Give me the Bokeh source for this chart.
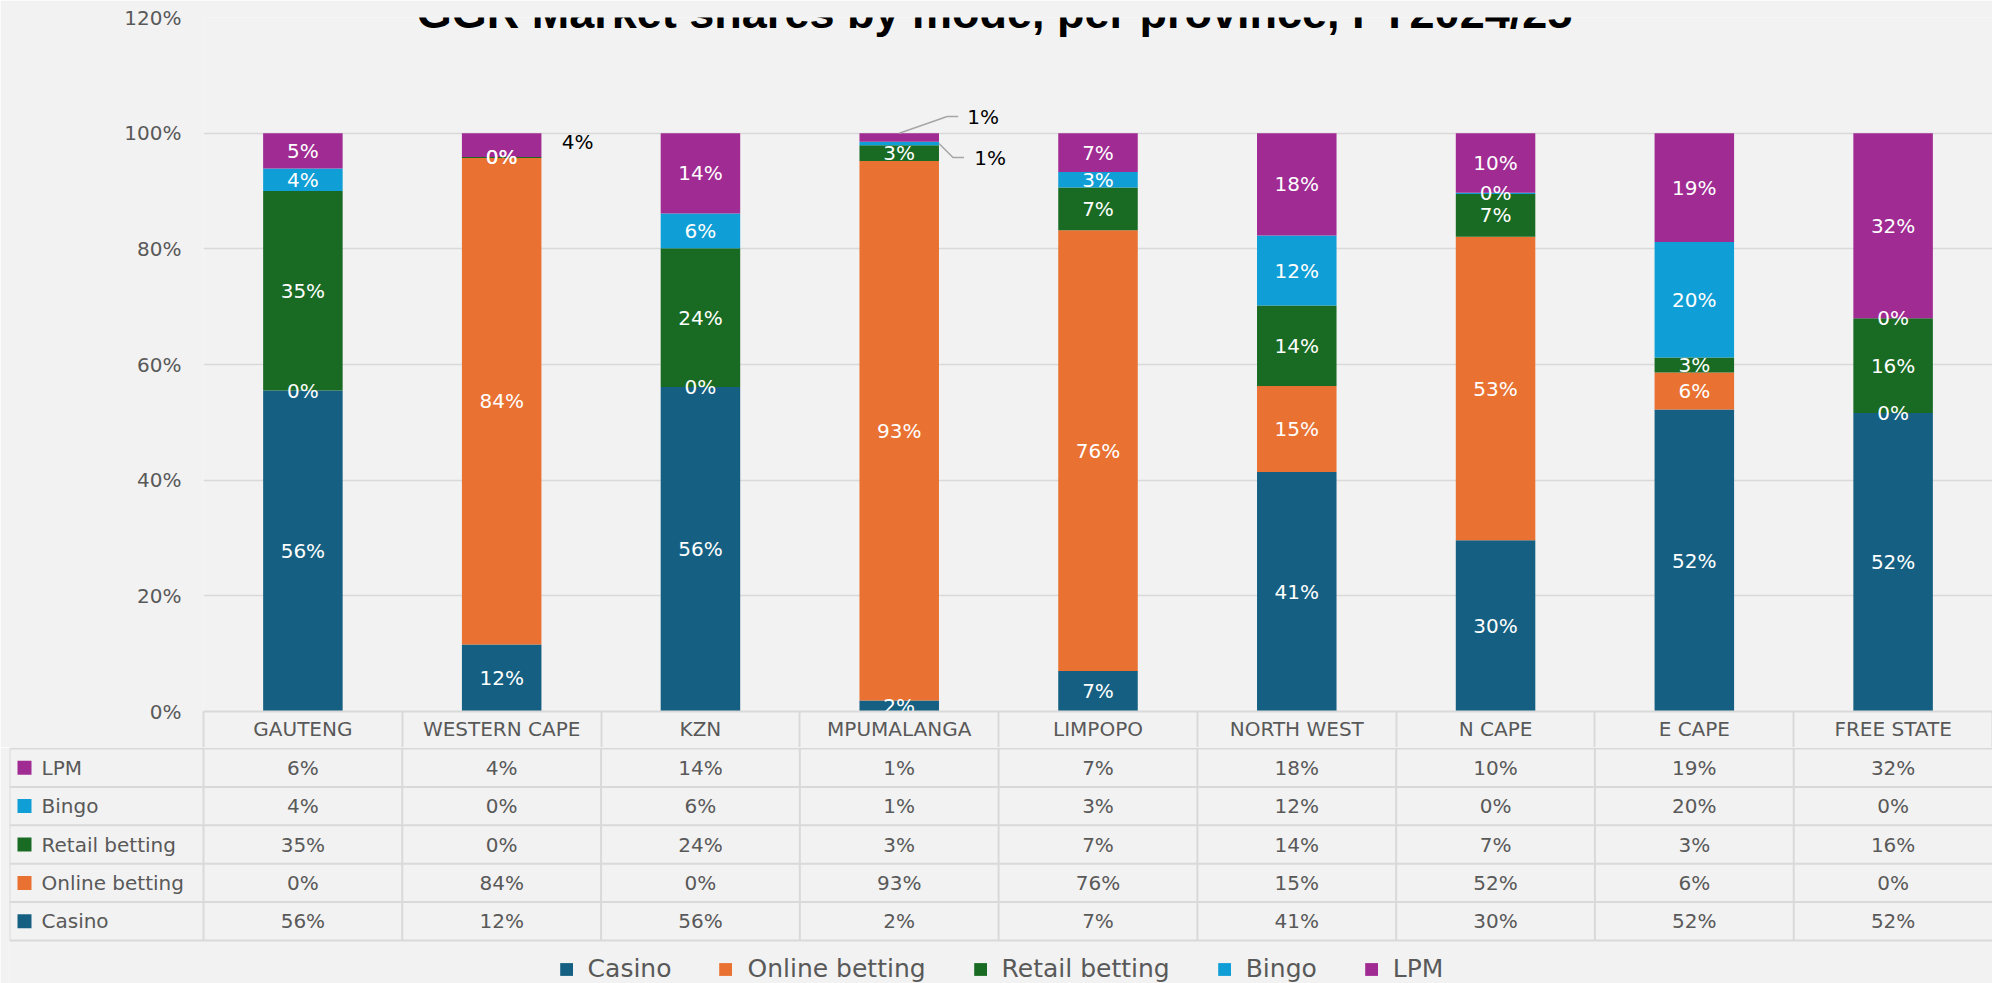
import numpy as np
from bokeh.plotting import figure
from bokeh.models import (ColumnDataSource, Range1d, FixedTicker, PrintfTickFormatter,
                          Label, Legend, LegendItem)
from bokeh.core.properties import value
from bokeh.embed import file_html
from bokeh.resources import INLINE

# ---------------- data ----------------
provinces = ["GAUTENG", "WESTERN CAPE", "KZN", "MPUMALANGA", "LIMPOPO",
             "NORTH WEST", "N CAPE", "E CAPE", "FREE STATE"]
series = ["Casino", "Online betting", "Retail betting", "Bingo", "LPM"]
colors = ["#156082", "#E97132", "#196B24", "#0F9ED5", "#A02B93"]

# bar segment heights (% of provincial GGR)
casino = [55.5, 11.6, 56.1, 1.9, 7.0, 41.4, 29.6, 52.2, 51.6]
online = [0.0, 84.1, 0.0, 93.3, 76.2, 14.9, 52.5, 6.4, 0.0]
retail = [34.5, 0.2, 24.0, 2.7, 7.4, 13.9, 7.4, 2.6, 16.4]
bingo = [3.9, 0.0, 6.0, 0.6, 2.7, 12.1, 0.2, 20.0, 0.0]
lpm = [6.1, 4.1, 13.9, 1.5, 6.7, 17.7, 10.3, 18.8, 32.0]

# data labels printed on the bars
lbl_casino = ["56%", "12%", "56%", "2%", "7%", "41%", "30%", "52%", "52%"]
lbl_online = ["0%", "84%", "0%", "93%", "76%", "15%", "53%", "6%", "0%"]
lbl_retail = ["35%", "0%", "24%", "3%", "7%", "14%", "7%", "3%", "16%"]
lbl_bingo = ["4%", "0%", "6%", "1%", "3%", "12%", "0%", "20%", "0%"]
lbl_lpm = ["5%", "4%", "14%", "1%", "7%", "18%", "10%", "19%", "32%"]

# data table under the chart
tbl_lpm = [6, 4, 14, 1, 7, 18, 10, 19, 32]
tbl_bingo = [4, 0, 6, 1, 3, 12, 0, 20, 0]
tbl_retail = [35, 0, 24, 3, 7, 14, 7, 3, 16]
tbl_online = [0, 84, 0, 93, 76, 15, 52, 6, 0]
tbl_casino = [56, 12, 56, 2, 7, 41, 30, 52, 52]

y_ticks = [0, 20, 40, 60, 80, 100, 120]
title_text = "GGR Market shares by mode, per province, FY2024/25"

# ---------------- styling / layout ----------------
BG = "#F2F2F2"
GRID = "#D9D9D9"
TXT = "#595959"
FONT = "DejaVu Sans"
n = len(provinces)

page_w = 1992
left_px = 203
frame_w = page_w - left_px
col_px = frame_w / n
top_px = 17
frame_h = 694
head_px = 36          # header row of the data table (x axis of the chart)
pct_px = frame_h / 120.0

# ---------------- chart ----------------
p1 = figure(frame_width=frame_w, frame_height=frame_h,
            x_range=Range1d(-0.5, n - 0.5), y_range=Range1d(0, 120),
            output_backend="svg", toolbar_location=None,
            min_border_left=left_px, min_border_right=0,
            min_border_top=top_px, min_border_bottom=head_px)
p1.background_fill_color = BG
p1.border_fill_color = BG
p1.outline_line_color = None
p1.xgrid.visible = False
p1.ygrid.grid_line_color = GRID
p1.ygrid.grid_line_width = 1.5
p1.ygrid.ticker = FixedTicker(ticks=y_ticks)

yax = p1.yaxis[0]
yax.ticker = FixedTicker(ticks=y_ticks)
yax.formatter = PrintfTickFormatter(format="%d%%")
yax.axis_line_color = None
yax.major_tick_line_color = None
yax.minor_tick_line_color = None
yax.major_tick_out = 0
yax.major_tick_in = 0
yax.major_label_standoff = 22
yax.major_label_text_font = FONT
yax.major_label_text_font_size = "20px"
yax.major_label_text_color = TXT

# x axis = header row of the table (category names, cell borders as minor ticks)
xax = p1.xaxis[0]
xax.ticker = FixedTicker(ticks=list(range(n)), minor_ticks=[i - 0.5 for i in range(n + 1)])
xax.major_label_overrides = {i: name for i, name in enumerate(provinces)}
xax.axis_line_color = GRID
xax.axis_line_width = 2
xax.major_tick_line_color = None
xax.major_tick_out = 0
xax.major_tick_in = 0
xax.minor_tick_line_color = GRID
xax.minor_tick_line_width = 2
xax.minor_tick_out = head_px
xax.minor_tick_in = 0
xax.major_label_standoff = 5 - head_px
xax.major_label_text_font = FONT
xax.major_label_text_font_size = "20px"
xax.major_label_text_color = TXT

vals = np.array([casino, online, retail, bingo, lpm], dtype=float)
src = ColumnDataSource(dict(x=list(range(n)),
                            **{s: vals[k].tolist() for k, s in enumerate(series)}))
p1.vbar_stack(series, x="x", width=0.4, fill_color=colors, line_color=None, source=src)

tops = np.cumsum(vals, axis=0)
bottoms = tops - vals
mids = bottoms + vals / 2.0
labels = [lbl_casino, lbl_online, lbl_retail, lbl_bingo, lbl_lpm]

# labels drawn outside the bars: (province idx, series idx, dx px from bar centre, dy px from segment middle)
callouts = [(1, 4, 60, -3), (3, 4, 68, -21), (3, 3, 75, 14)]
outside = {(c[0], c[1]) for c in callouts}

ix, iy, it = [], [], []
for k in range(len(series)):
    for i in range(n):
        if (i, k) in outside:
            continue
        ix.append(i)
        iy.append(mids[k, i])
        it.append(labels[k][i])
p1.text(x=ix, y=iy, text=it, text_align="center", text_baseline="middle",
        text_color="white", text_font=value(FONT), text_font_size="20px")

ox, oy, ot = [], [], []
for (i, k, dx, dy) in callouts:
    ox.append(i + dx / col_px)
    oy.append(mids[k, i] - dy / pct_px)
    ot.append(labels[k][i])
p1.text(x=ox, y=oy, text=ot, text_align="left", text_baseline="middle",
        text_color="#000000", text_font=value(FONT), text_font_size="20px")

# leader lines for the Mpumalanga call-outs
i_m = provinces.index("MPUMALANGA")
k_l = series.index("LPM")
k_b = series.index("Bingo")
y_l = mids[k_l, i_m] + 21 / pct_px
y_b = mids[k_b, i_m] - 14 / pct_px
edge = i_m + 0.2
lx = [[i_m, i_m + 48 / col_px, i_m + 59 / col_px],
      [edge, edge + 14 / col_px, edge + 25 / col_px]]
ly = [[tops[k_l, i_m], y_l, y_l],
      [mids[k_b, i_m], y_b, y_b]]
p1.multi_line(xs=lx, ys=ly, line_color="#A6A6A6", line_width=1.5)

title = Label(x=994 - left_px, y=frame_h + top_px - 12, x_units="screen", y_units="screen",
              text=title_text, text_align="center", text_baseline="alphabetic",
              text_font="Liberation Sans", text_font_style="bold",
              text_font_size="45px", text_color="#000000")
p1.add_layout(title)

# ---------------- data table (value rows + legend) ----------------
tab_left = 9
label_col_px = left_px - tab_left
x_start = -0.5 - label_col_px / col_px
row_px = 38.4
tab_h = 983 - (top_px + frame_h + head_px)
off = 1
p2 = figure(frame_width=page_w - tab_left, frame_height=tab_h,
            x_range=Range1d(x_start, n - 0.5),
            y_range=Range1d((tab_h - off) / row_px, -off / row_px),
            x_axis_location=None, y_axis_location=None,
            output_backend="svg", toolbar_location=None,
            min_border_left=tab_left, min_border_right=0, min_border_top=0, min_border_bottom=0)
p2.background_fill_color = BG
p2.border_fill_color = BG
p2.outline_line_color = None
p2.xgrid.visible = False
p2.ygrid.visible = False

row_series = ["LPM", "Bingo", "Retail betting", "Online betting", "Casino"]
row_vals = [tbl_lpm, tbl_bingo, tbl_retail, tbl_online, tbl_casino]
n_rows = len(row_series)

# grid lines of the table
x0s, x1s, y0s, y1s = [], [], [], []
for r in range(n_rows + 1):
    x0s.append(x_start); x1s.append(n - 0.5); y0s.append(r); y1s.append(r)
x0s.append(x_start); x1s.append(x_start); y0s.append(0); y1s.append(n_rows)
for j in range(n):
    x0s.append(j - 0.5); x1s.append(j - 0.5); y0s.append(0); y1s.append(n_rows)
p2.segment(x0=x0s, y0=y0s, x1=x1s, y1=y1s, line_color=GRID, line_width=2)

# cells
cx, cy, ct = [], [], []
for r, rv in enumerate(row_vals):
    for i in range(n):
        cx.append(i)
        cy.append(r + 0.5)
        ct.append(f"{rv[i]}%")
p2.text(x=cx, y=cy, text=ct, text_align="center", text_baseline="middle",
        text_color=TXT, text_font=value(FONT), text_font_size="20px")
# row labels with colour keys
row_colors = [colors[series.index(s)] for s in row_series]
ry = [r + 0.5 for r in range(n_rows)]
p2.rect(x=[x_start + 15 / col_px] * n_rows, y=ry, width=14, height=14,
        width_units="screen", height_units="screen", fill_color=row_colors, line_color=None)
p2.text(x=[x_start + 32 / col_px] * n_rows, y=ry, text=row_series,
        text_align="left", text_baseline="middle", text_color=TXT,
        text_font=value(FONT), text_font_size="20px")

# legend (keys use renderers that hold no visible point)
items = []
for s, c in zip(series, colors):
    r = p2.vbar(x=[float("nan")], top=[float("nan")], width=0.1, fill_color=c, line_color=None)
    items.append(LegendItem(label=s, renderers=[r]))
legend = Legend(items=items, orientation="horizontal", location="bottom_center",
                glyph_width=16, glyph_height=16, label_standoff=14, spacing=46,
                padding=0, margin=0, background_fill_alpha=0, border_line_color=None,
                label_text_font=FONT, label_text_font_size="25px", label_text_color=TXT)
p2.add_layout(legend)

open("out.html", "w").write(file_html([p1, p2], INLINE))
